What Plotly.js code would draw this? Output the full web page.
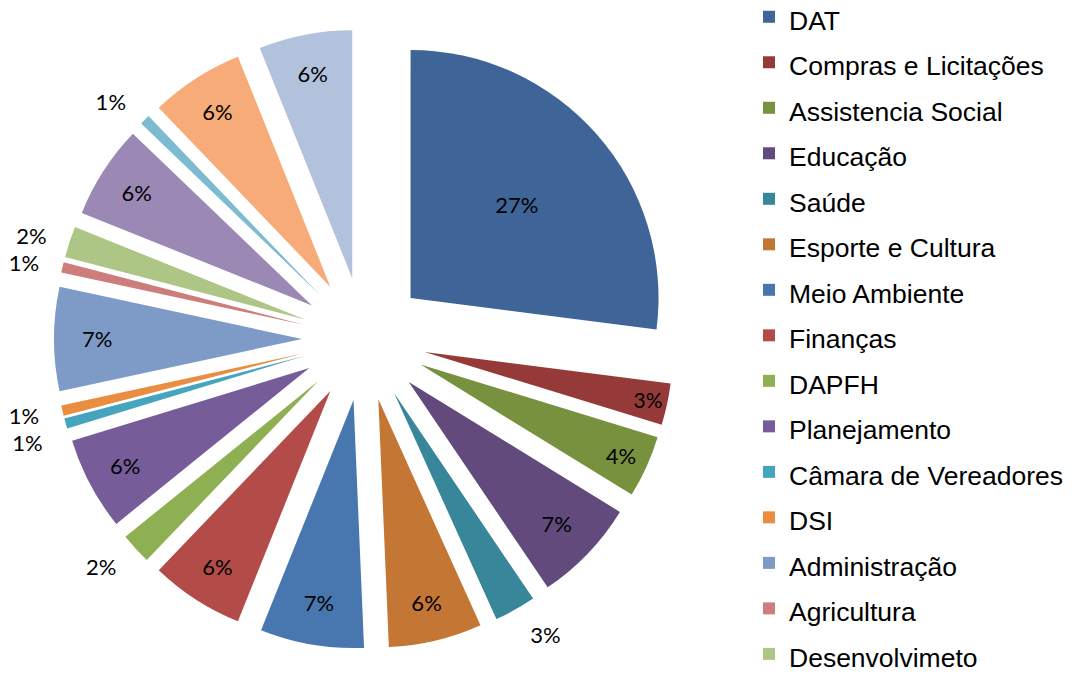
<!DOCTYPE html>
<html><head><meta charset="utf-8">
<script src="https://cdn.plot.ly/plotly-3.0.1.min.js"></script>
<style>
html,body{margin:0;padding:0;background:#fff;}
#chart{width:1072px;height:675px;}
.legend .scrollbar{display:none !important;}
path.textline{stroke-opacity:0 !important;}
</style></head><body><div id="chart"></div>
<script>
const labels = ['DAT','Compras e Licitações','Assistencia Social','Educação','Saúde','Esporte e Cultura','Meio Ambiente','Finanças','DAPFH','Planejamento','Câmara de Vereadores','DSI','Administração','Agricultura','Desenvolvimeto','Obras','Gabinete','Procuradoria','Controle Interno'];
const values = [40,4,6,10,4,9,10,9,3,9,1,1,10,1,3,9,1,9,9];
const colors = ['#3F6598','#953A38','#77913F','#624B7C','#38869A','#C47634','#4877B0','#B34B49','#8EAF52','#765C98','#45A4BE','#EB8D40','#7E9BC8','#CD7E7C','#ADC686','#9C88B4','#7DBBD0','#F7AB78','#B3C2DC'];
// which slices carry their percentage label outside the slice
const labelOutside = [false,false,false,false,true,false,false,false,true,false,true,true,false,true,true,false,true,false,false];

const legendLabels = labels.map(s => '<span style="font-size:26.5px">' + s + '</span>');
const txtFont = {family: 'Lato, sans-serif', size: 22, color: '#000'};

// main pie: slices + inside labels
const pie = {
  type: 'pie',
  labels: legendLabels,
  values: values,
  sort: false,
  direction: 'clockwise',
  rotation: 0,
  pull: 0.25,
  marker: {colors: colors, line: {width: 0}},
  texttemplate: '%{percent:.0%}',
  textposition: labelOutside.map(o => o ? 'none' : 'inside'),
  insidetextorientation: 'horizontal',
  textfont: txtFont, insidetextfont: txtFont, outsidetextfont: txtFont,
  domain: {x: [0.05037, 0.62873], y: [0.03852, 0.95704]},
  hoverinfo: 'label+percent'
};

// transparent companion pie, slightly larger, only used to place the outside labels
const outerLabels = {
  type: 'pie',
  labels: legendLabels,
  values: values,
  sort: false,
  direction: 'clockwise',
  rotation: 0,
  pull: 0.234,
  showlegend: false,
  marker: {colors: values.map(() => 'rgba(0,0,0,0)'), line: {width: 0}},
  texttemplate: '%{percent:.0%}',
  textposition: labelOutside.map(o => o ? 'outside' : 'none'),
  textfont: txtFont, insidetextfont: txtFont, outsidetextfont: txtFont,
  domain: {x: [0.03451, 0.64459], y: [0.01333, 0.98222]},
  hoverinfo: 'skip'
};

const layout = {
  width: 1072, height: 675,
  margin: {l: 0, r: 0, t: 0, b: 0, autoexpand: false},
  paper_bgcolor: '#ffffff',
  showlegend: true,
  legend: {
    x: 0.6987, xref: 'paper', xanchor: 'left',
    y: 1.0163, yref: 'paper', yanchor: 'top',
    font: {family: 'Liberation Sans, Arial, sans-serif', size: 32.7, color: '#000'},
    maxheight: 686,
    bgcolor: 'rgba(0,0,0,0)', borderwidth: 0,
    traceorder: 'normal'
  }
};

Plotly.newPlot('chart', [pie, outerLabels], layout, {displayModeBar: false, staticPlot: true});
</script></body></html>
